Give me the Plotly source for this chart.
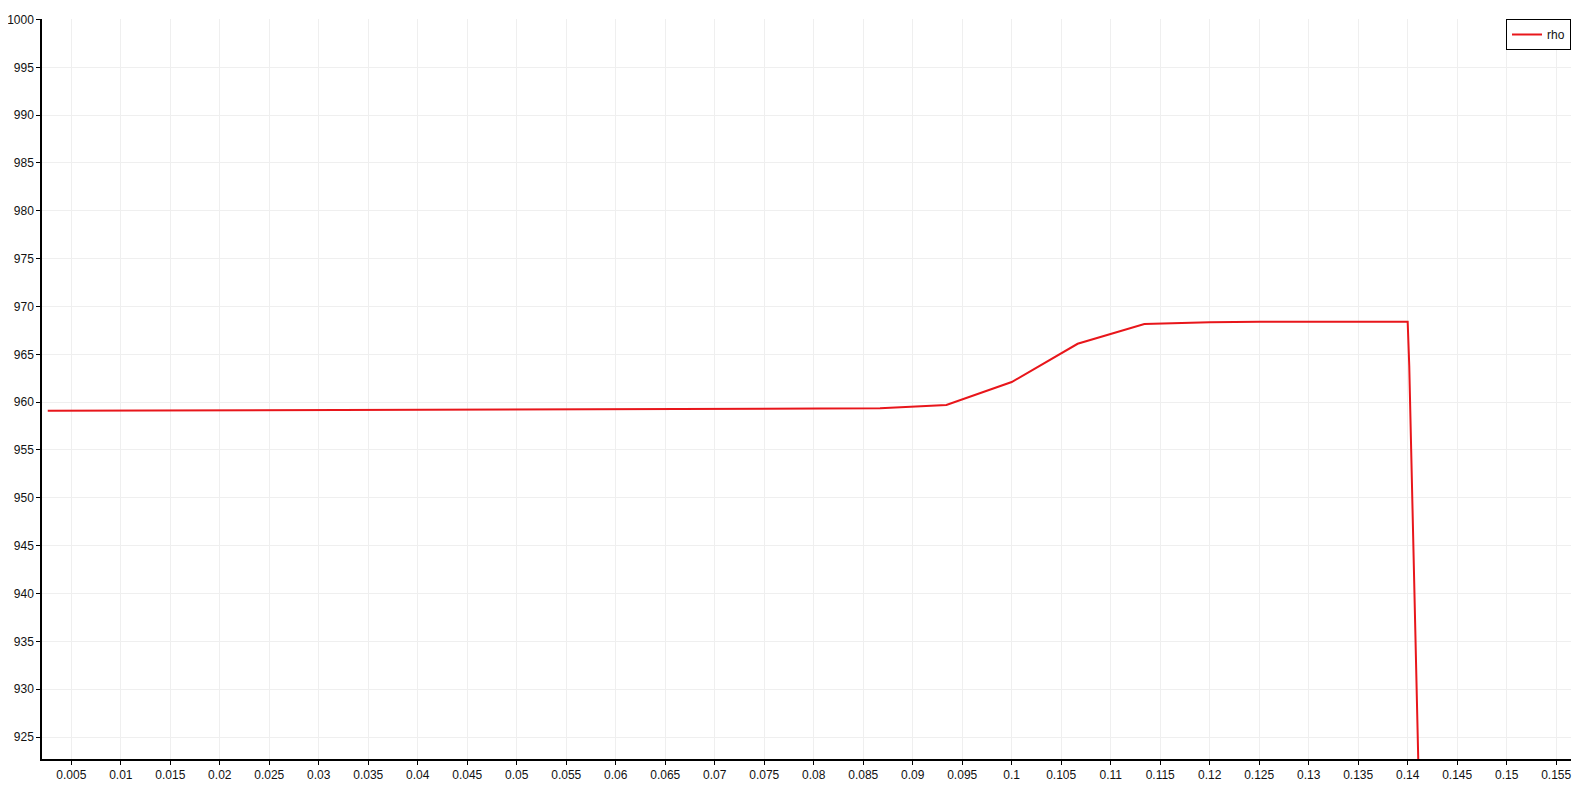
import plotly.graph_objects as go

x_vals = [0.00262, 0.02, 0.04, 0.06, 0.08, 0.0867, 0.0934, 0.1000, 0.10666, 0.1134,
          0.120, 0.125, 0.1400, 0.14008, 0.14016, 0.14135]
rho_vals = [959.10, 959.15, 959.20, 959.25, 959.30, 959.35, 959.70, 962.10, 966.10, 968.16,
            968.35, 968.40, 968.40, 966.0, 963.8, 910.0]

x_ticks = [round(0.005 * i, 3) for i in range(1, 32)]
x_labels = [("%g" % v) for v in x_ticks]
y_ticks = list(range(925, 1001, 5))

fig = go.Figure()
fig.add_trace(go.Scatter(x=x_vals, y=rho_vals, mode="lines", name="rho",
                         line=dict(color="#e8161b", width=2)))

# page body has an 8px margin, so the figure is sized/offset to compensate
fig.update_layout(
    width=1583, height=778,
    margin=dict(l=34, r=20, t=11, b=27, autoexpand=False),
    paper_bgcolor="white", plot_bgcolor="white",
    font=dict(family="Liberation Sans", size=12, color="#111111"),
    showlegend=True,
    legend=dict(x=1.0, y=1.0, xanchor="right", yanchor="top",
                bordercolor="black", borderwidth=1, bgcolor="white",
                font=dict(size=12), itemwidth=30, tracegroupgap=0),
)
fig.update_xaxes(range=[0.00204, 0.1565], tickvals=x_ticks, ticktext=x_labels,
                 showline=True, linecolor="black", linewidth=1.5,
                 ticks="outside", ticklen=4, tickcolor="black", automargin=False,
                 showgrid=True, gridcolor="#efefef", gridwidth=1, zeroline=False)
fig.update_yaxes(range=[922.7, 1000.05], tickvals=y_ticks,
                 showline=True, linecolor="black", linewidth=1.5,
                 ticks="outside", ticklen=4, tickcolor="black", automargin=False,
                 showgrid=True, gridcolor="#efefef", gridwidth=1, zeroline=False)

fig.write_html("out.html")
